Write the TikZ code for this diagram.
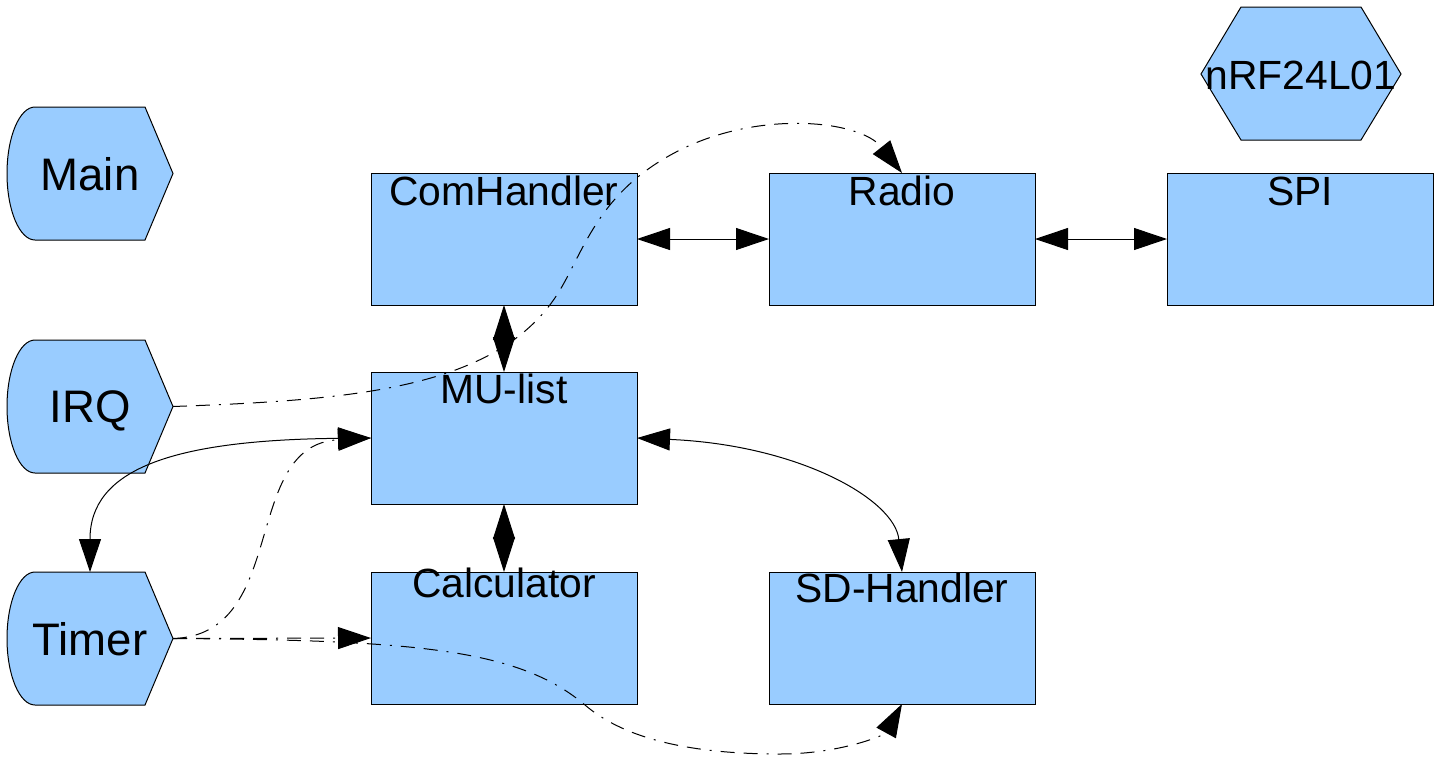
\documentclass[tikz,border=0pt]{standalone}
\usepackage{fontspec}
\setmainfont{Liberation Sans}
\usetikzlibrary{arrows.meta}
\definecolor{boxblue}{RGB}{153,204,255}
\tikzset{
  block/.style={draw=black, fill=boxblue, line width=0.5pt, minimum width=133pt, minimum height=66pt, inner sep=0pt, outer sep=0pt},
  lbl/.style={anchor=base, inner sep=0pt, font=\fontsize{20.4}{24}\selectfont},
  biglbl/.style={anchor=base, inner sep=0pt, font=\fontsize{22.8}{27}\selectfont},
  shapeline/.style={draw=black, fill=boxblue, line width=0.5pt, line join=miter},
  conn/.style={line width=0.5pt, black},
  diamondconn/.style={line width=0.5pt, black, {Triangle[length=17.5pt,width=11pt]}-{Triangle[length=17.5pt,width=11pt]}},
  dashdot/.style={line width=0.5pt, black, dash pattern=on 7pt off 4.5pt on 7pt off 4.5pt on 1pt off 4.5pt},
}
\begin{document}
\begin{tikzpicture}[x=0.5pt,y=-0.5pt,>={Triangle[length=16.5pt,width=11pt]}]
\useasboundingbox (0,0) rectangle (1446,756);
% left display shapes
\foreach \yy in {107,340,572}{
  \path[shapeline, shift={(0,\yy)}] (35,0) -- (145,0) -- (173,66.5) -- (145,133) -- (35,133)
     arc[start angle=270,end angle=90,x radius=14pt,y radius=33.25pt] -- cycle;
}
\node[biglbl] (main) at (90,190) {Main};
\node[biglbl] (irq) at (90,422.5) {IRQ};
\node[biglbl] (timer) at (90,655) {Timer};
\coordinate (irqtip) at (173,406.5);
\coordinate (timertip) at (173,638.5);
\coordinate (timertop) at (90,572);
% hexagon
\path[shapeline] (1241,7) -- (1361,7) -- (1401,74) -- (1361,140) -- (1241,140) -- (1201,74) -- cycle;
\node[lbl] (nrf) at (1301,89) {nRF24L01};
% blocks
\node[block] (com) at (504,239) {};
\node[block] (radio) at (902,239) {};
\node[block] (spi) at (1300,239) {};
\node[block] (mu) at (504,438) {};
\node[block] (calc) at (504,638) {};
\node[block] (sd) at (902,638) {};
\node[lbl] (comlbl) at (504,205) {ComHandler};
\node[lbl] (radiolbl) at (902,205) {Radio};
\node[lbl] (spilbl) at (1300,205) {SPI};
\node[lbl] (mulbl) at (504,403) {MU-list};
\node[lbl] (calclbl) at (504,597) {Calculator};
\node[lbl] (sdlbl) at (902,602) {SD-Handler};
% connectors
\draw[conn,<->] (com.east) -- (radio.west);
\draw[conn,<->] (radio.east) -- (spi.west);
\draw[diamondconn] (com.south) -- (mu.north);
\draw[diamondconn] (mu.south) -- (calc.north);
\draw[conn,<->] (mu.east) .. controls (800,445) and (895,500) .. (sd.north);
\draw[conn,<->] (mu.west) .. controls (170,440) and (90,470) .. (timertop);
\draw[dashdot,->] (irqtip) .. controls (350,400) and (500,390) .. (560,290)
   .. controls (585,248) and (600,190) .. (680,150)
   .. controls (760,110) and (860,120) .. (radio.north);
\draw[dashdot,->] (timertip) .. controls (290,635) and (240,445) .. (mu.west);
\draw[dashdot,->] (timertip) -- (calc.west);
\draw[dashdot,->] (timertip) .. controls (420,640) and (520,650) .. (585,705)
   .. controls (620,735) and (680,754) .. (780,754)
   .. controls (840,754) and (885,735) .. (sd.south);
\end{tikzpicture}
\end{document}
